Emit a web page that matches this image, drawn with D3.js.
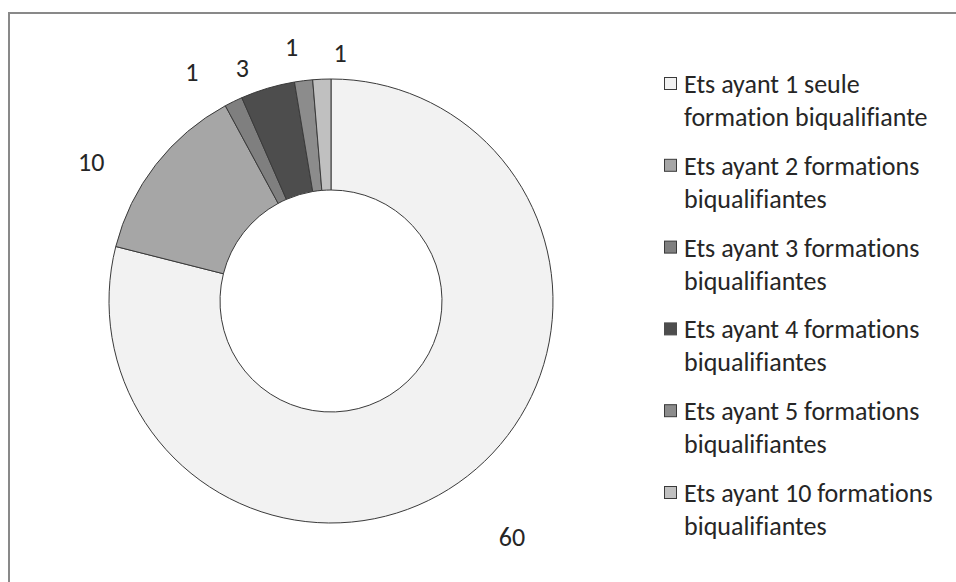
<!DOCTYPE html>
<html><head><meta charset="utf-8">
<script src="https://cdn.jsdelivr.net/npm/d3@7"></script>
<style>html,body{margin:0;padding:0;background:#fff}svg{display:block}text{font-variant-ligatures:none;font-feature-settings:"liga" 0}</style>
</head><body><svg id="c" width="956" height="582"></svg>
<script>
const categories = [
  ["Ets ayant 1 seule", "formation biqualifiante"],
  ["Ets ayant 2 formations", "biqualifiantes"],
  ["Ets ayant 3 formations", "biqualifiantes"],
  ["Ets ayant 4 formations", "biqualifiantes"],
  ["Ets ayant 5 formations", "biqualifiantes"],
  ["Ets ayant 10 formations", "biqualifiantes"]
];
const values = [60, 10, 1, 3, 1, 1];
const colors = ["#f2f2f2", "#a6a6a6", "#7f7f7f", "#4d4d4d", "#8c8c8c", "#c0c0c0"];
// label nudges relative to a polar anchor (Excel hand-placed labels)
const labelNudge = [[20,29],[-33,22],[-24,6],[-14,18],[-7,6],[20,14]];

const svg = d3.select("#c");
const font = "Carlito, Calibri, 'Open Sans', sans-serif";

svg.append("rect").attr("x",9).attr("y",13).attr("width",960).attr("height",600)
  .attr("fill","none").attr("stroke","#898989").attr("stroke-width",2);

const cx = 331, cy = 301, rO = 222, rI = 111;
const g = svg.append("g").attr("transform",`translate(${cx},${cy})`);
const data = values.map((v,i)=>({v,i}));
const pie = d3.pie().value(d=>d.v).sort(null);
const arcs = pie(data);
const arc = d3.arc().innerRadius(rI).outerRadius(rO);
g.selectAll("path").data(arcs).join("path")
  .attr("d", arc).attr("fill", d=>colors[d.data.i])
  .attr("stroke","#3a3a3a").attr("stroke-width",1);

const labelArc = d3.arc().innerRadius(262).outerRadius(262);
g.selectAll("text.lab").data(arcs).join("text").attr("class","lab")
  .attr("x", d=>labelArc.centroid(d)[0] + labelNudge[d.data.i][0])
  .attr("y", d=>labelArc.centroid(d)[1] + labelNudge[d.data.i][1])
  .attr("text-anchor","middle").attr("dominant-baseline","central")
  .attr("font-family",font).attr("font-size",26).attr("fill","#262626")
  .text(d=>d.data.v);

const lg = svg.append("g").attr("transform","translate(664,84)");
const rowH = 81.8;
categories.forEach((c,i)=>{
  const row = lg.append("g").attr("transform",`translate(0,${i*rowH})`);
  row.append("rect").attr("x",0.5).attr("y",-6.5).attr("width",12).attr("height",12)
    .attr("fill",colors[i]).attr("stroke", i===3 ? colors[i] : "#3a3a3a").attr("stroke-width",1);
  c.forEach((t,j)=>{
    row.append("text").attr("x", j===0?20:20).attr("y", j*33)
      .attr("dominant-baseline","central")
      .attr("font-family",font).attr("font-size",26).attr("fill","#262626").text(t);
  });
});
</script></body></html>
